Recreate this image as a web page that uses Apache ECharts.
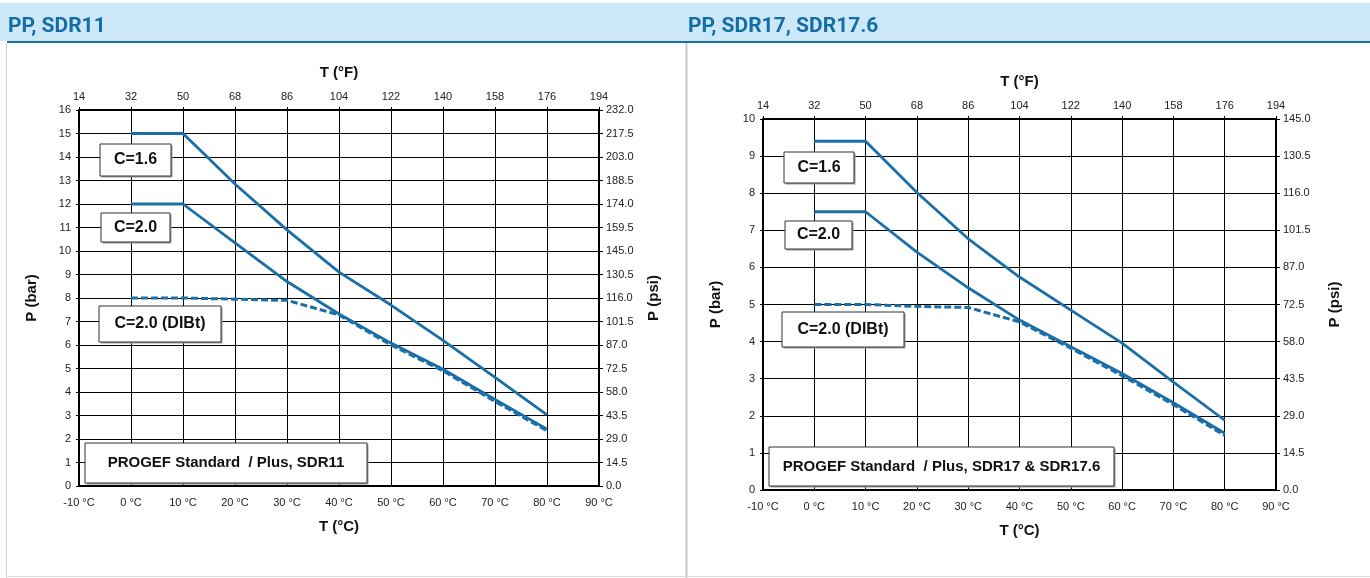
<!DOCTYPE html>
<html>
<head>
<meta charset="utf-8">
<script src="https://cdn.jsdelivr.net/npm/echarts@6/dist/echarts.min.js"></script>
<style>
  html, body { margin: 0; padding: 0; background: #fff; }
  #chart { width: 1370px; height: 578px; }
</style>
</head>
<body>
<div id="chart"></div>
<script>
// ---- Data ----
const temperaturesC = [0, 10, 20, 30, 40, 50, 60, 70, 80];

const sdr11_C16  = [15, 15, 12.85, 10.9, 9.1, 7.7, 6.2, 4.62, 3.03];
const sdr11_C20  = [12, 12, 10.35, 8.7, 7.32, 6.08, 4.97, 3.68, 2.42];
const sdr11_DIBt = [8, 8, 7.95, 7.9, 7.28, 6.0, 4.9, 3.6, 2.35];

const sdr17_C16  = [9.4, 9.4, 8.02, 6.77, 5.74, 4.85, 3.96, 2.91, 1.88];
const sdr17_C20  = [7.5, 7.5, 6.41, 5.45, 4.58, 3.86, 3.14, 2.35, 1.53];
const sdr17_DIBt = [5.0, 5.0, 4.95, 4.92, 4.53, 3.82, 3.08, 2.3, 1.47];

const fahrenheitTicks = ['14', '32', '50', '68', '86', '104', '122', '140', '158', '176', '194'];
const psiTicks11 = ['0.0', '14.5', '29.0', '43.5', '58.0', '72.5', '87.0', '101.5', '116.0', '130.5', '145.0', '159.5', '174.0', '188.5', '203.0', '217.5', '232.0'];
const psiTicks17 = ['0.0', '14.5', '29.0', '43.5', '58.0', '72.5', '87.0', '101.5', '116.0', '130.5', '145.0'];

const titles = ['PP, SDR11', 'PP, SDR17, SDR17.6'];
const curveLabels = ['C=1.6', 'C=2.0', 'C=2.0 (DIBt)'];
const productLabels = ['PROGEF Standard  / Plus, SDR11', 'PROGEF Standard  / Plus, SDR17 & SDR17.6'];

// ---- Styling ----
const LINE_BLUE = '#1a6fa8';
const TITLE_BLUE = '#136ea6';
const TICK_FONT = '"Liberation Sans", Arial, sans-serif';
const BOLD_FONT = '"Liberation Sans", Arial, sans-serif';

const pairs = (ys) => temperaturesC.map((t, i) => [t, ys[i]]);

function xBottom(gridIndex) {
  return {
    type: 'value', gridIndex, position: 'bottom', min: -10, max: 90, interval: 10,
    name: 'T (°C)', nameLocation: 'middle', nameGap: 33,
    nameTextStyle: { fontFamily: BOLD_FONT, fontWeight: 'bold', fontSize: 15, color: '#111' },
    axisLine: { show: true, onZero: false, lineStyle: { color: '#000', width: 2 } },
    axisTick: { show: false },
    axisLabel: { margin: 11, fontFamily: TICK_FONT, fontSize: 11, color: '#222', formatter: v => v + ' °C' },
    splitLine: { show: true, lineStyle: { color: '#000', width: 1 } }
  };
}
function xTop(gridIndex) {
  return {
    type: 'value', gridIndex, position: 'top', min: -10, max: 90, interval: 10,
    name: 'T (°F)', nameLocation: 'middle', nameGap: 30,
    nameTextStyle: { fontFamily: BOLD_FONT, fontWeight: 'bold', fontSize: 15, color: '#111' },
    axisLine: { show: true, onZero: false, lineStyle: { color: '#000', width: 2 } },
    axisTick: { show: true, length: 3, lineStyle: { color: '#000' } },
    axisLabel: { margin: 8, fontFamily: TICK_FONT, fontSize: 11, color: '#222',
      formatter: v => fahrenheitTicks[Math.round((v + 10) / 10)] },
    splitLine: { show: false }
  };
}
function yLeft(gridIndex, max) {
  return {
    type: 'value', gridIndex, position: 'left', min: 0, max, interval: 1,
    name: 'P (bar)', nameLocation: 'middle', nameGap: 40, nameRotate: 90,
    nameTextStyle: { fontFamily: BOLD_FONT, fontWeight: 'bold', fontSize: 15, color: '#111' },
    axisLine: { show: true, onZero: false, lineStyle: { color: '#000', width: 2 } },
    axisTick: { show: true, length: 3, lineStyle: { color: '#000' } },
    axisLabel: { margin: 8, fontFamily: TICK_FONT, fontSize: 11, color: '#222' },
    splitLine: { show: true, lineStyle: { color: '#000', width: 1 } }
  };
}
function yRight(gridIndex, max, labels, gap) {
  return {
    type: 'value', gridIndex, position: 'right', min: 0, max, interval: 1,
    name: 'P (psi)', nameLocation: 'middle', nameGap: gap, nameRotate: 90,
    nameTextStyle: { fontFamily: BOLD_FONT, fontWeight: 'bold', fontSize: 15, color: '#111' },
    axisLine: { show: true, onZero: false, lineStyle: { color: '#000', width: 2 } },
    axisTick: { show: true, length: 4, lineStyle: { color: '#000' } },
    axisLabel: { margin: 7, fontFamily: TICK_FONT, fontSize: 11, color: '#222',
      formatter: v => labels[Math.round(v)] },
    splitLine: { show: false }
  };
}

function solid(data, xi, yi) {
  return { type: 'line', xAxisIndex: xi, yAxisIndex: yi, data: pairs(data), showSymbol: false, symbol: 'none',
    lineStyle: { color: LINE_BLUE, width: 2.8 }, silent: true, animation: false, z: 3 };
}
function dashed(data, xi, yi) {
  return { type: 'line', xAxisIndex: xi, yAxisIndex: yi, data: pairs(data), showSymbol: false, symbol: 'none',
    lineStyle: { color: LINE_BLUE, width: 3, type: [7, 3] }, silent: true, animation: false, z: 4 };
}

function box(x, y, w, h, text, fontSize) {
  return [
    { type: 'rect', z: 100, shape: { x: x + 1.5, y: y + 1.5, width: w, height: h },
      style: { fill: '#9a9a9a' } },
    { type: 'rect', z: 101, shape: { x, y, width: w, height: h },
      style: { fill: '#fff', stroke: '#333', lineWidth: 1 } },
    { type: 'text', z: 102, x: x + w / 2, y: y + h / 2,
      style: { text, fill: '#111', font: 'bold ' + fontSize + 'px ' + BOLD_FONT, textAlign: 'center', textVerticalAlign: 'middle' } }
  ];
}

const chart = echarts.init(document.getElementById('chart'), null, { renderer: 'canvas' });

const option = {
  animation: false,
  backgroundColor: '#fff',
  grid: [
    { left: 79, top: 110, width: 520, height: 376, containLabel: false },
    { left: 763, top: 119, width: 513, height: 371, containLabel: false }
  ],
  xAxis: [xBottom(0), xTop(0), xBottom(1), xTop(1)],
  yAxis: [yLeft(0, 16), yRight(0, 16, psiTicks11, 47), yLeft(1, 10), yRight(1, 10, psiTicks17, 51)],
  series: [
    solid(sdr11_C16, 0, 0), solid(sdr11_C20, 0, 0), dashed(sdr11_DIBt, 0, 0),
    solid(sdr17_C16, 2, 2), solid(sdr17_C20, 2, 2), dashed(sdr17_DIBt, 2, 2)
  ],
  graphic: [
    { type: 'rect', z: 0, shape: { x: 0, y: 3, width: 1370, height: 38 }, style: { fill: '#cce7f7' } },
    { type: 'rect', z: 1, shape: { x: 7, y: 41, width: 1363, height: 2 }, style: { fill: '#1b6fa5' } },
    { type: 'text', z: 2, x: 8, y: 27, style: { text: titles[0], fill: TITLE_BLUE, font: 'bold 21px Roboto, "Liberation Sans", sans-serif', textVerticalAlign: 'middle' } },
    { type: 'text', z: 2, x: 688, y: 27, style: { text: titles[1], fill: TITLE_BLUE, font: 'bold 21px Roboto, "Liberation Sans", sans-serif', textVerticalAlign: 'middle' } },
    { type: 'rect', z: 1, shape: { x: 6, y: 43, width: 1, height: 535 }, style: { fill: '#d4d4d8' } },
    { type: 'rect', z: 1, shape: { x: 685.5, y: 43, width: 2, height: 535 }, style: { fill: '#c6c6ce' } },
    { type: 'rect', z: 1, shape: { x: 6, y: 576, width: 1364, height: 1 }, style: { fill: '#dcdcdc' } }
  ].concat(
    box(100, 144, 71, 32, curveLabels[0], 16),
    box(101, 213, 69, 29, curveLabels[1], 16),
    box(99, 306, 122, 36, curveLabels[2], 16),
    box(85, 443, 282, 40, productLabels[0], 15),
    box(784, 152, 70, 31, curveLabels[0], 16),
    box(785, 221, 67, 28, curveLabels[1], 16),
    box(782, 312, 122, 35, curveLabels[2], 16),
    box(769, 447, 345, 39, productLabels[1], 15)
  )
};
chart.setOption(option);
</script>
</body>
</html>
